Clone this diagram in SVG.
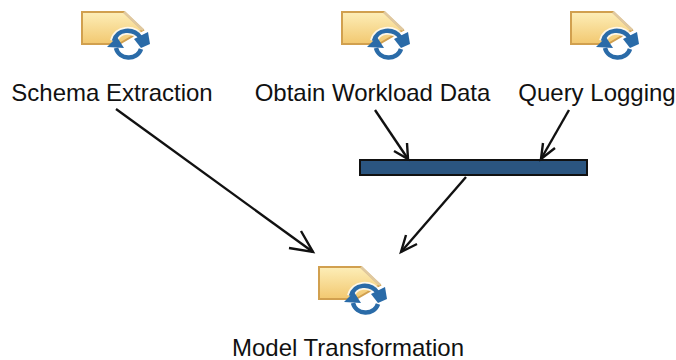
<svg xmlns="http://www.w3.org/2000/svg" width="676" height="360" viewBox="0 0 676 360">
<style>
text{font-family:"Liberation Sans",Arial,sans-serif;font-size:24px;fill:#111;text-anchor:middle}
.c{fill:none;stroke:#111;stroke-width:2.4}
.h{fill:none;stroke:#111;stroke-width:2.4}
.halo{fill:none;stroke:#fff;stroke-width:8;opacity:.8}
.cy{fill:none;stroke:#2a6ba8;stroke-width:4.500}
.ah{fill:#2a6ba8}
</style>
<defs>
<linearGradient id="g" x1="0" y1="0" x2="0" y2="1"><stop offset="0" stop-color="#fdeeb8"/><stop offset="1" stop-color="#f2c870"/></linearGradient>
<g id="icon">
<path d="M1 1H43L62 19L38 33H1Z" fill="url(#g)" stroke="#d1a04f" stroke-width="2"/>
<path d="M43 1L62 19" fill="none" stroke="#e0c9a0" stroke-width="2.500"/>
<path class="halo" d="M33 30C36 18 52 16 60 27"/>
<path class="halo" d="M60 38C56 50 38 49 35 37"/>
<path class="cy" d="M33 30C36 18 52 16 60 27"/>
<path class="ah" d="M53 28L67 21L69 33L60 37Z"/>
<path class="cy" d="M60 38C56 50 38 49 35 37"/>
<path class="ah" d="M26 36L36 26L43 37Z"/>
</g>
</defs>
<g id="node-schema"><use href="#icon" x="81" y="11"/><text x="112" y="101">Schema Extraction</text></g>
<g id="node-workload"><use href="#icon" x="341" y="11"/><text x="372.500" y="101">Obtain Workload Data</text></g>
<g id="node-logging"><use href="#icon" x="570" y="11"/><text x="597" y="101">Query Logging</text></g>
<g id="node-join"><rect x="360" y="160" width="227" height="15" fill="#2b5580" stroke="#111" stroke-width="2"/></g>
<g id="node-model"><use href="#icon" x="318" y="266"/><text x="348" y="356">Model Transformation</text></g>
<g id="connectors">
<path class="c" d="M116 109L313 252"/><path class="h" d="M289 248L313 252L301 231"/>
<path class="c" d="M375 110L408 159"/><path class="h" d="M394 151L408 159L407 143"/>
<path class="c" d="M569 110L541 159"/><path class="h" d="M555 148L541 159L543 143"/>
<path class="c" d="M466 177L401 252"/><path class="h" d="M417 244L401 252L406 235"/>
</g>
</svg>
